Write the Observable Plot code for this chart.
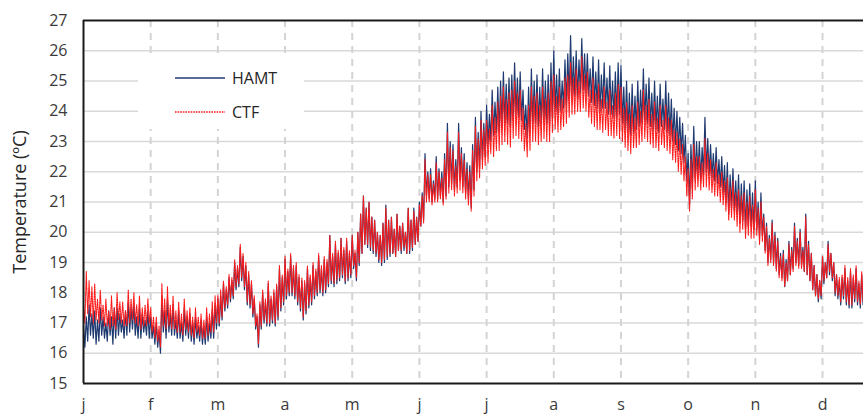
<!DOCTYPE html>
<html>
<head>
<meta charset="utf-8">
<script src="https://cdn.jsdelivr.net/npm/d3@7"></script>
<script src="https://cdn.jsdelivr.net/npm/@observablehq/plot@0.6"></script>
<style>
  html, body { margin: 0; padding: 0; background: #fff; }
  #chart { width: 863px; height: 414px; overflow: hidden; }
  #chart svg { display: block; }
</style>
</head>
<body>
<div id="chart"></div>
<script>
// Month tick labels (one tick per month boundary)
const monthLabels = ["j", "f", "m", "a", "m", "j", "j", "a", "s", "o", "n", "d"];
const monthTicks = monthLabels.map((_, i) => i);

// Temperature axis ticks (°C)
const tempTicks = [15, 16, 17, 18, 19, 20, 21, 22, 23, 24, 25, 26, 27];

const seriesNames = ["HAMT", "CTF"];

// Indoor temperature, alternating daily highs and lows, 48 samples per month
const hamt = [
  // jan
  16.9,16.2, 17.2,16.4, 17.6,16.6, 17.3,16.5, 17.4,16.3, 17.1,16.4, 17.5,16.6, 17.2,16.5, 17.0,16.4, 17.4,16.6, 17.2,16.3, 17.5,16.5,
  17.5,16.6, 17.3,16.7, 17.1,16.5, 17.4,16.6, 17.7,16.7, 17.5,16.8, 17.6,16.6, 17.2,16.5, 17.5,16.5, 17.3,16.7, 17.1,16.6, 17.4,16.5,
  // feb
  17.2,16.5, 16.9,16.3, 17.0,16.2, 16.7,16.0, 17.9,16.7, 17.4,16.5, 17.8,16.7, 17.3,16.6, 17.6,16.6, 17.1,16.5, 17.4,16.5, 17.0,16.4,
  17.5,16.6, 17.2,16.5, 17.3,16.4, 17.0,16.3, 17.2,16.5, 16.9,16.4, 17.1,16.3, 16.9,16.3, 17.2,16.4, 17.0,16.5, 17.4,16.5, 17.6,16.8,
  // mar
  17.8,16.9, 17.9,17.1, 18.3,17.4, 18.1,17.5, 18.5,17.7, 18.4,17.8, 19.0,18.1, 18.8,18.2, 19.5,18.4, 19.2,18.1, 18.9,17.6, 18.6,17.5,
  18.3,17.2, 17.8,16.8, 17.2,16.2, 17.6,16.8, 18.0,17.0, 17.7,16.9, 18.3,16.9, 17.8,17.0, 18.0,16.9, 18.2,17.1, 18.8,17.4, 18.5,17.6,
  // apr
  19.1,17.8, 18.7,17.9, 19.2,17.9, 18.8,17.8, 18.9,17.6, 18.5,17.4, 18.4,17.1, 18.3,17.3, 18.8,17.5, 18.5,17.6, 18.9,17.8, 18.7,17.9,
  19.2,18.0, 18.8,17.9, 19.1,18.0, 19.0,18.2, 19.9,18.3, 19.2,18.2, 19.6,18.3, 19.3,18.4, 19.8,18.5, 19.4,18.3, 19.7,18.4, 19.3,18.5,
  // may
  19.9,18.8, 19.3,18.4, 20.0,18.9, 20.6,19.3, 21.2,19.6, 20.8,19.5, 21.0,19.4, 20.5,19.3, 20.4,19.2, 20.0,19.0, 19.9,18.9, 20.3,19.0,
  20.9,19.1, 20.4,19.2, 20.5,19.3, 20.1,19.2, 20.6,19.4, 20.2,19.3, 20.3,19.4, 20.0,19.3, 20.8,19.3, 20.4,19.4, 20.8,19.6, 20.5,19.7,
  // jun
  21.0,20.2, 21.3,20.4, 22.6,21.2, 22.0,21.1, 22.1,21.0, 21.7,21.1, 22.5,21.1, 22.1,21.2, 22.0,21.0, 22.6,21.2, 23.6,21.5, 23.0,21.6,
  22.9,21.4, 22.4,21.5, 23.6,21.7, 22.8,21.5, 22.6,21.3, 22.3,21.1, 22.2,20.8, 22.9,21.4, 23.8,22.0, 23.3,22.1, 24.0,22.4, 23.6,22.5,
  // jul
  24.2,22.9, 23.9,23.0, 24.7,23.2, 24.3,23.3, 24.8,23.3, 25.0,23.5, 25.3,23.6, 24.9,23.6, 25.1,23.5, 25.2,23.7, 25.6,23.9, 25.1,23.8,
  25.3,23.7, 24.7,23.4, 24.2,23.1, 24.8,23.3, 25.4,23.6, 25.0,23.6, 25.2,23.5, 24.8,23.6, 25.4,23.7, 25.0,23.6, 25.2,23.5, 25.6,23.8,
  // aug
  26.0,24.0, 25.2,23.9, 25.4,24.0, 25.0,24.1, 25.7,24.2, 25.9,24.4, 26.5,24.5, 25.8,24.5, 26.0,24.4, 25.7,24.6, 26.4,24.7, 25.9,24.6,
  25.9,24.5, 25.4,24.3, 25.8,24.2, 25.3,24.1, 25.7,24.0, 25.2,24.1, 25.6,24.1, 25.1,23.9, 25.5,23.9, 25.0,23.8, 25.3,23.8, 25.6,23.9,
  // sep
  25.5,23.6, 24.8,23.4, 25.0,23.3, 24.6,23.2, 24.9,23.3, 24.5,23.4, 25.0,23.5, 24.7,23.6, 25.4,23.7, 24.9,23.6, 25.1,23.5, 24.6,23.4,
  25.0,23.4, 24.5,23.3, 24.9,23.5, 24.4,23.4, 25.0,23.3, 24.6,23.2, 24.4,23.0, 24.1,22.9, 24.0,22.7, 23.8,22.6, 23.6,22.3, 23.2,21.7,
  // oct
  22.6,20.9, 22.9,21.5, 23.5,21.8, 23.0,21.9, 23.0,21.7, 22.8,21.9, 23.8,22.0, 23.1,21.9, 22.9,21.8, 22.6,21.7, 22.8,21.6, 22.4,21.5,
  22.5,21.3, 22.2,21.0, 22.3,20.6, 21.9,20.8, 22.1,20.7, 21.7,20.6, 21.9,20.3, 21.6,20.4, 21.7,20.1, 21.4,20.2, 21.6,20.2, 21.3,20.1,
  // nov
  21.7,20.1, 21.0,19.8, 21.3,19.9, 20.6,19.4, 20.3,19.0, 19.9,19.1, 20.4,19.0, 20.0,18.8, 19.8,18.6, 19.3,18.5, 19.4,18.2, 19.1,18.4,
  19.7,18.6, 19.5,18.8, 20.3,19.0, 19.8,18.9, 20.1,18.9, 19.5,18.7, 20.6,18.6, 19.7,18.4, 19.3,18.1, 18.9,17.9, 18.6,17.7, 18.4,17.8,
  // dec
  19.2,18.3, 19.0,18.5, 19.7,18.6, 19.3,18.4, 19.0,17.9, 18.6,17.8, 18.4,17.6, 18.5,17.8, 18.8,17.6, 18.4,17.5, 18.7,17.5, 18.5,17.7,
  18.8,17.6, 18.3,17.5, 18.6,17.6, 18.5
];

const ctf = [
  // jan
  17.6,17.0, 18.7,17.3, 18.4,17.2, 18.2,17.0, 18.3,17.1, 17.8,17.0, 18.1,17.1, 17.6,16.9, 17.8,16.9, 17.4,16.8, 17.9,16.9, 17.5,16.8,
  18.0,17.1, 17.7,17.0, 17.7,16.9, 17.4,16.9, 18.1,17.0, 17.8,17.1, 18.0,17.0, 17.6,16.9, 17.9,16.8, 17.5,16.9, 17.6,16.9, 17.8,17.0,
  // feb
  17.5,16.7, 17.2,16.5, 17.2,16.4, 16.9,16.2, 18.3,16.9, 17.8,16.8, 18.2,16.9, 17.6,16.8, 17.9,16.8, 17.4,16.7, 17.7,16.7, 17.3,16.6,
  17.8,16.8, 17.4,16.7, 17.5,16.6, 17.2,16.5, 17.5,16.7, 17.2,16.6, 17.3,16.5, 17.1,16.5, 17.5,16.6, 17.3,16.7, 17.7,16.7, 17.9,17.0,
  // mar
  17.9,17.0, 18.1,17.2, 18.4,17.5, 18.2,17.6, 18.6,17.8, 18.5,17.9, 19.1,18.2, 18.9,18.3, 19.6,18.5, 19.3,18.2, 19.0,17.7, 18.7,17.6,
  18.4,17.3, 17.9,16.9, 17.3,16.3, 17.7,16.9, 18.1,17.1, 17.8,17.0, 18.4,17.0, 17.9,17.1, 18.1,17.0, 18.3,17.2, 18.9,17.5, 18.6,17.7,
  // apr
  19.2,17.9, 18.8,18.0, 19.3,18.0, 18.9,17.9, 19.0,17.7, 18.6,17.5, 18.5,17.2, 18.4,17.4, 18.9,17.6, 18.6,17.7, 19.0,17.9, 18.8,18.0,
  19.3,18.1, 18.9,18.0, 19.2,18.1, 19.1,18.3, 19.9,18.4, 19.3,18.3, 19.7,18.4, 19.4,18.5, 19.8,18.6, 19.5,18.4, 19.8,18.5, 19.4,18.6,
  // may
  19.9,18.9, 19.4,18.5, 20.0,19.0, 20.6,19.3, 21.2,19.6, 20.8,19.6, 21.0,19.5, 20.5,19.4, 20.4,19.3, 20.0,19.1, 19.9,19.0, 20.3,19.1,
  20.8,19.2, 20.4,19.3, 20.5,19.3, 20.1,19.2, 20.6,19.4, 20.2,19.4, 20.3,19.5, 20.0,19.3, 20.8,19.4, 20.4,19.5, 20.7,19.6, 20.5,19.7,
  // jun
  20.9,20.2, 21.2,20.3, 22.4,21.0, 21.9,21.0, 21.9,20.9, 21.6,21.0, 22.3,21.0, 22.0,21.1, 21.8,20.9, 22.4,21.1, 23.3,21.3, 22.8,21.4,
  22.7,21.2, 22.2,21.3, 23.3,21.4, 22.6,21.3, 22.4,21.1, 22.1,20.9, 22.0,20.7, 22.7,21.2, 23.5,21.7, 23.1,21.8, 23.7,22.1, 23.4,22.2,
  // jul
  23.7,22.3, 23.4,22.6, 24.2,22.5, 23.8,22.7, 24.3,22.7, 24.5,22.9, 24.8,23.0, 24.4,22.9, 24.6,22.8, 24.7,23.1, 25.0,23.2, 24.6,23.1,
  24.7,23.0, 24.1,22.7, 23.6,22.5, 24.2,22.7, 24.8,23.0, 24.5,23.0, 24.6,22.9, 24.2,23.0, 24.8,23.1, 24.4,23.0, 24.6,23.0, 25.0,23.3,
  // aug
  25.2,23.4, 24.5,23.3, 24.8,23.4, 24.4,23.5, 25.1,23.6, 25.2,23.8, 25.6,23.9, 25.1,23.9, 25.4,24.0, 25.0,24.0, 25.8,24.1, 25.2,24.0,
  25.3,23.8, 24.7,23.6, 25.1,23.5, 24.6,23.4, 24.9,23.4, 24.4,23.3, 24.8,23.4, 24.3,23.2, 24.7,23.2, 24.2,23.1, 24.6,23.2, 24.9,23.1,
  // sep
  24.8,23.0, 24.1,22.8, 24.3,22.7, 23.9,22.6, 24.2,22.8, 23.8,22.8, 24.3,22.9, 24.0,23.0, 24.7,23.1, 24.2,23.0, 24.4,22.9, 23.9,22.8,
  24.3,22.8, 23.8,22.7, 24.2,22.9, 23.7,22.8, 24.2,22.7, 23.8,22.6, 23.7,22.4, 23.4,22.3, 23.3,22.0, 23.1,21.9, 22.9,21.7, 22.5,21.2,
  // oct
  22.1,20.7, 22.4,21.1, 22.9,21.4, 22.5,21.5, 22.5,21.4, 22.3,21.5, 23.1,21.5, 22.6,21.4, 22.4,21.3, 22.1,21.2, 22.3,21.2, 21.9,21.0,
  22.0,20.9, 21.7,20.7, 21.8,20.4, 21.5,20.5, 21.7,20.4, 21.3,20.2, 21.4,20.0, 21.2,20.1, 21.3,19.8, 21.0,19.9, 21.2,19.8, 20.9,19.8,
  // nov
  21.4,19.9, 20.8,19.6, 21.0,19.7, 20.5,19.3, 20.2,18.9, 19.8,19.0, 20.3,18.9, 19.9,18.7, 19.7,18.5, 19.2,18.4, 19.3,18.2, 19.0,18.4,
  19.6,18.6, 19.4,18.7, 20.2,18.9, 19.7,18.8, 20.0,18.8, 19.4,18.7, 20.5,18.6, 19.6,18.4, 19.3,18.1, 18.9,17.9, 18.6,17.8, 18.4,17.9,
  // dec
  19.2,18.4, 19.0,18.5, 19.6,18.7, 19.3,18.5, 19.0,18.0, 18.6,17.9, 18.5,17.7, 18.6,17.9, 18.9,17.7, 18.5,17.6, 18.8,17.6, 18.6,17.8,
  18.9,17.7, 18.4,17.6, 18.7,17.7, 18.6
];

const samplesPerMonth = 48;
const toPoints = (values) => values.map((t, i) => ({month: i / samplesPerMonth, t}));

const colors = {HAMT: "#1f3a70", CTF: "#ff1a1a"};
const font = "'Open Sans', sans-serif";

const chart = Plot.plot({
  width: 863,
  height: 414,
  marginTop: 20,
  marginBottom: 31,
  marginLeft: 83,
  marginRight: 0,
  style: {fontFamily: font, fontSize: "16px", color: "#3a3a3a", background: "#fff"},
  x: {domain: [0, 11.61], axis: null},
  y: {domain: [15, 27], axis: null},
  marks: [
    // horizontal grid
    Plot.ruleY(tempTicks.slice(1, -1), {stroke: "#d9d9d9", strokeWidth: 1.5}),
    // dashed month separators
    Plot.ruleX(monthTicks.slice(1), {stroke: "#d4d4d4", strokeWidth: 2, strokeDasharray: "7,6"}),
    // series
    Plot.line(toPoints(hamt), {x: "month", y: "t", stroke: colors.HAMT, strokeWidth: 1.2}),
    Plot.line(toPoints(ctf), {x: "month", y: "t", stroke: colors.CTF, strokeWidth: 1.1, strokeDasharray: "1.3,1.1"}),
    // frame lines
    Plot.ruleY([tempTicks[0], tempTicks[tempTicks.length - 1]], {stroke: "#1a1a1a", strokeWidth: 2}),
    Plot.ruleX([monthTicks[0]], {stroke: "#1a1a1a", strokeWidth: 2}),
    // axes
    Plot.axisY(tempTicks, {tickSize: 0, tickPadding: 16, fontSize: 16, label: null}),
    Plot.axisX(monthTicks, {tickSize: 0, tickPadding: 15, fontSize: 16, label: null, tickFormat: (i) => monthLabels[i]}),
    Plot.text(["Temperature (ºC)"], {frameAnchor: "left", textAnchor: "middle", dx: -63, rotate: -90, fontSize: 18, fill: "#262626"})
  ]
});

// Legend inside the plot area
const svg = d3.select(chart);
const legend = svg.append("g")
  .attr("font-family", font).attr("font-size", 16).attr("fill", "#262626").attr("text-anchor", "start");
legend.append("rect").attr("x", 138).attr("y", 56).attr("width", 166).attr("height", 73).attr("fill", "#fff");
seriesNames.forEach((name, i) => {
  const y = 78 + i * 34;
  legend.append("line")
    .attr("x1", 175).attr("x2", 225).attr("y1", y).attr("y2", y)
    .attr("stroke", colors[name]).attr("stroke-width", name === "CTF" ? 1.3 : 1.6)
    .attr("stroke-dasharray", name === "CTF" ? "1.6,1" : null);
  legend.append("text").attr("x", 232).attr("y", y).attr("dy", "0.35em").text(name);
});

document.getElementById("chart").appendChild(chart);
</script>
</body>
</html>
